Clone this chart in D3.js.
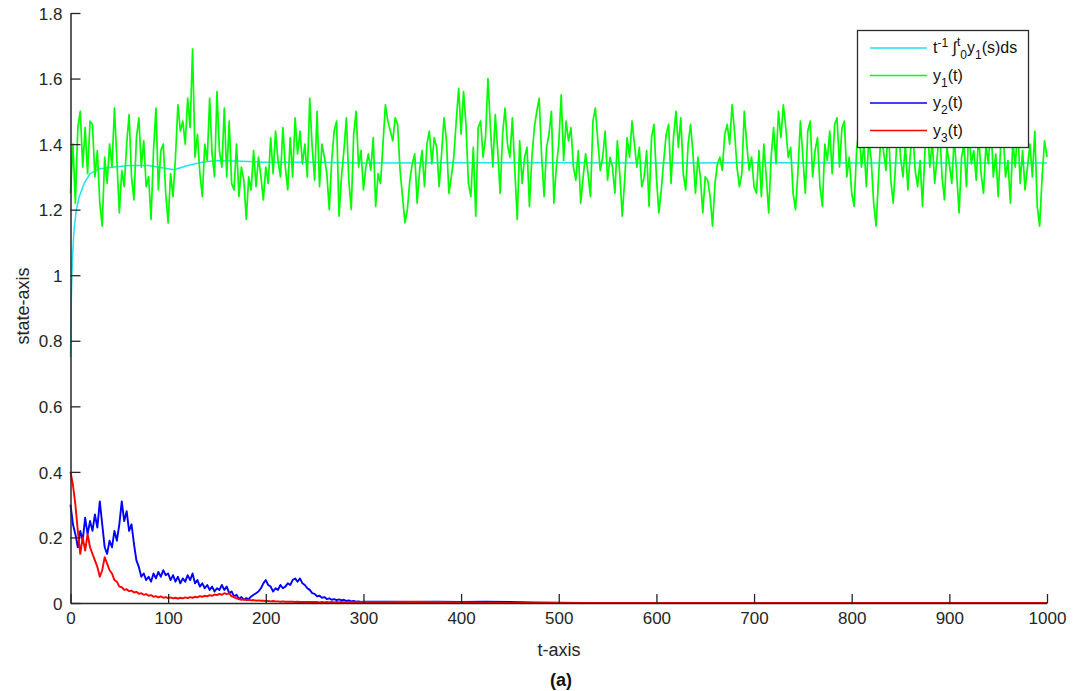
<!DOCTYPE html>
<html>
<head>
<meta charset="utf-8">
<script src="https://cdn.jsdelivr.net/npm/d3@7"></script>
<style>
  body { margin: 0; background: #fff; }
  svg { display: block; font-family: "Liberation Sans", Arial, sans-serif; }
</style>
</head>
<body>
<svg id="chart" width="1080" height="691"></svg>
<script>
// ── Data ──────────────────────────────────────────────────────────────────────
const xTickValues = [0, 100, 200, 300, 400, 500, 600, 700, 800, 900, 1000];
const yTickValues = [0, 0.2, 0.4, 0.6, 0.8, 1, 1.2, 1.4, 1.6, 1.8];
const yTickLabels = ["0", "0.2", "0.4", "0.6", "0.8", "1", "1.2", "1.4", "1.6", "1.8"];

// y1(t), sampled every 2.5 time units from 0 to 1000
const y1a = [
  1.25,1.40,1.22,1.45,1.50,1.33,1.45,1.31,1.47,1.46,
  1.30,1.38,1.22,1.15,1.36,1.28,1.40,1.33,1.51,1.35,
  1.19,1.32,1.27,1.40,1.49,1.30,1.23,1.42,1.48,1.33,
  1.41,1.27,1.30,1.17,1.38,1.51,1.26,1.38,1.40,1.25,
  1.16,1.31,1.24,1.36,1.52,1.44,1.47,1.40,1.54,1.45,
  1.69,1.36,1.43,1.31,1.24,1.40,1.35,1.54,1.37,1.30,
  1.56,1.38,1.33,1.51,1.30,1.47,1.28,1.26,1.40,1.24,
  1.33,1.29,1.17,1.30,1.26,1.38,1.27,1.36,1.30,1.23,
  1.33,1.28,1.42,1.31,1.44,1.35,1.30,1.45,1.33,1.26,
  1.42,1.30,1.48,1.37,1.44,1.34,1.40,1.30,1.54,1.39,
  1.29
];
const y1b = [
  1.50,1.27,1.40,1.36,1.31,1.20,1.35,1.44,1.47,1.18,
  1.30,1.38,1.48,1.29,1.20,1.43,1.50,1.33,1.38,1.26,
  1.33,1.37,1.32,1.42,1.21,1.31,1.28,1.40,1.52,1.47,
  1.44,1.41,1.48,1.46,1.32,1.24,1.16,1.20,1.29,1.34,
  1.37,1.22,1.32,1.38,1.27,1.40,1.44,1.34,1.42,1.39,
  1.27,1.37,1.48,1.41,1.25,1.30,1.36,1.47,1.57,1.43,
  1.56,1.46,1.28,1.24,1.39,1.18,1.45,1.47,1.36,1.42,
  1.60,1.45,1.33,1.49,1.38,1.25,1.43,1.51,1.40,1.36,
  1.48,1.32,1.17,1.41,1.28,1.36,1.39,1.21,1.36,1.45,
  1.50,1.54,1.36,1.24,1.39,1.43,1.50,1.22,1.33,1.40
];
const y1c = [
  1.55,1.35,1.47,1.41,1.45,1.33,1.29,1.38,1.22,1.30,
  1.37,1.31,1.24,1.47,1.51,1.41,1.32,1.36,1.44,1.29,
  1.36,1.33,1.25,1.41,1.31,1.18,1.29,1.42,1.36,1.47,
  1.40,1.33,1.39,1.27,1.30,1.38,1.21,1.42,1.46,1.30,
  1.19,1.26,1.35,1.43,1.46,1.28,1.42,1.50,1.39,1.48,
  1.31,1.26,1.40,1.46,1.37,1.25,1.36,1.30,1.19,1.30,
  1.29,1.24,1.15,1.28,1.34,1.36,1.32,1.43,1.46,1.40,
  1.52,1.44,1.33,1.27,1.31,1.50,1.40,1.32,1.36,1.27,
  1.25,1.38,1.24,1.40,1.30,1.19,1.36,1.45,1.34,1.50,
  1.42,1.52,1.45,1.36,1.39,1.25,1.20,1.32,1.47,1.36,
  1.25
];
const y1d = [
  1.44,1.47,1.30,1.38,1.42,1.27,1.21,1.40,1.35,1.44,
  1.31,1.46,1.48,1.33,1.45,1.47,1.30,1.36,1.25,1.21,
  1.38,1.45,1.33,1.40,1.27,1.42,1.35,1.22,1.15,1.30,
  1.43,1.38,1.32,1.46,1.29,1.22,1.34,1.48,1.36,1.30,
  1.40,1.26,1.37,1.44,1.32,1.27,1.35,1.21,1.38,1.46,
  1.33,1.41,1.28,1.36,1.45,1.30,1.23,1.39,1.34,1.28,
  1.42,1.31,1.19,1.36,1.40,1.27,1.45,1.34,1.38,1.29,
  1.43,1.31,1.25,1.40,1.34,1.47,1.30,1.37,1.24,1.39,
  1.44,1.30,1.35,1.22,1.41,1.33,1.46,1.28,1.38,1.26,
  1.33,1.40,1.30,1.44,1.21,1.15,1.30,1.41,1.36
];

// running time average of y1
const avgTimes  = [0, 0.5, 1, 2, 3, 4, 6, 9, 14, 20, 30, 45, 60, 80, 100, 106, 120, 135, 150, 175, 200, 250, 300, 400, 500, 600, 700, 800, 900, 1000];
const avgValues = [0.75, 0.85, 0.95, 1.05, 1.11, 1.15, 1.20, 1.24, 1.28, 1.31, 1.325, 1.33, 1.335, 1.335, 1.325, 1.322, 1.335, 1.345, 1.35, 1.348, 1.345, 1.345, 1.342, 1.343, 1.343, 1.342, 1.343, 1.342, 1.342, 1.342];

// y2(t): every 2.5 from 0 to 300, then every 25 from 325 to 1000
const y2Head = [
  0.30,0.24,0.21,0.17,0.22,0.19,0.26,0.21,0.25,0.22,
  0.27,0.23,0.31,0.24,0.17,0.15,0.19,0.17,0.22,0.19,
  0.24,0.31,0.25,0.28,0.22,0.24,0.18,0.13,0.11,0.08,
  0.09,0.07,0.08,0.065,0.09,0.075,0.095,0.08,0.10,0.085,
  0.09,0.07,0.085,0.065,0.08,0.06,0.075,0.065,0.085,0.07,
  0.09,0.06,0.07,0.05,0.06,0.045,0.055,0.04,0.05,0.035,
  0.045,0.04,0.055,0.04,0.05,0.03,0.035,0.02,0.025,0.012,
  0.018,0.01,0.015,0.012,0.02,0.025,0.03,0.035,0.045,0.06,
  0.07,0.055,0.05,0.035,0.045,0.04,0.055,0.045,0.05,0.06,
  0.055,0.07,0.075,0.065,0.075,0.06,0.055,0.045,0.04,0.03,
  0.028,0.02,0.022,0.016,0.018,0.012,0.014,0.01,0.012,0.009,
  0.011,0.008,0.01,0.006,0.008,0.005,0.006,0.004,0.005,0.003,
  0.004
];
const y2Tail = [0.004,0.003,0.004,0.003,0.004,0.003,0.002,0.001,0,0,0,0,0,0,0,0,0,0,0,0,0,0,0,0,0,0,0,0];

// y3(t): same sampling as y2
const y3Head = [
  0.40,0.36,0.30,0.22,0.15,0.20,0.16,0.21,0.17,0.15,
  0.13,0.11,0.08,0.10,0.14,0.12,0.10,0.09,0.07,0.065,
  0.05,0.048,0.04,0.042,0.036,0.038,0.032,0.034,0.028,0.03,
  0.025,0.027,0.022,0.024,0.019,0.021,0.017,0.02,0.016,0.018,
  0.015,0.017,0.014,0.016,0.013,0.016,0.014,0.017,0.015,0.018,
  0.016,0.019,0.017,0.021,0.019,0.022,0.02,0.024,0.022,0.026,
  0.024,0.028,0.025,0.03,0.027,0.03,0.02,0.018,0.014,0.012,
  0.01,0.011,0.009,0.01,0.008,0.009,0.007,0.008,0.007,0.007,
  0.006,0.006,0.005,0.006,0.005,0.005,0.004,0.005,0.004,0.004,
  0.004,0.004,0.003,0.004,0.003,0.003,0.003,0.003,0.003,0.003,
  0.003,0.003,0.002,0.003,0.002,0.003,0.002,0.003,0.002,0.003,
  0.002,0.003,0.002,0.003,0.002,0.003,0.002,0.003,0.002,0.003,
  0.003
];
const y3Tail = [0.003,0.004,0.003,0.002,0.001,0,0,0,0,0,0,0,0,0,0,0,0,0,0,0,0,0,0,0,0,0,0,0];

// ── Layout ────────────────────────────────────────────────────────────────────
const svg = d3.select("#chart");
const x = d3.scaleLinear().domain([0, 1000]).range([70.5, 1047]);
const y = d3.scaleLinear().domain([0, 1.8]).range([603, 13]);

const headTimes = d3.range(0, 300.01, 2.5);
const tailTimes = d3.range(325, 1000.01, 25);

const y1 = [...y1a, ...y1b, ...y1c, ...y1d];
const y1Series = y1.map((v, i) => [i * 1000 / (y1.length - 1), v]);
const avgSeries = avgTimes.map((t, i) => [t, avgValues[i]]);
const y2Series = headTimes.map((t, i) => [t, y2Head[i]])
  .concat(tailTimes.map((t, i) => [t, y2Tail[i]]));
const y3Series = headTimes.map((t, i) => [t, y3Head[i]])
  .concat(tailTimes.map((t, i) => [t, y3Tail[i]]));

const line = d3.line().x((d) => x(d[0])).y((d) => y(d[1]));

const series = [
  { data: avgSeries, color: "#1de3ec", width: 1.5 },
  { data: y1Series, color: "#00ff00", width: 1.7 },
  { data: y2Series, color: "#0000ff", width: 1.9 },
  { data: y3Series, color: "#ff0000", width: 1.9 },
];

svg.append("g")
  .selectAll("path")
  .data(series)
  .join("path")
  .attr("fill", "none")
  .attr("stroke", (d) => d.color)
  .attr("stroke-width", (d) => d.width)
  .attr("stroke-linejoin", "round")
  .attr("d", (d) => line(d.data));

// ── Axes (MATLAB style, ticks inward, box off) ────────────────────────────────
const axisColor = "#262626";

const xAxis = svg.append("g")
  .attr("transform", "translate(0,603)")
  .call(d3.axisBottom(x).tickValues(xTickValues).tickFormat(d3.format("d"))
    .tickSizeInner(-9).tickSizeOuter(0).tickPadding(9));
const yAxis = svg.append("g")
  .attr("transform", "translate(70.5,0)")
  .call(d3.axisLeft(y).tickValues(yTickValues).tickFormat((d, i) => yTickLabels[i])
    .tickSizeInner(-10).tickSizeOuter(0).tickPadding(8));

[xAxis, yAxis].forEach((g) => {
  g.select(".domain").attr("stroke", axisColor).attr("stroke-width", 1.5);
  g.selectAll(".tick line").attr("stroke", axisColor).attr("stroke-width", 1.3);
  g.selectAll(".tick text")
    .attr("fill", axisColor)
    .style("font-size", "17px")
    .style("font-family", "'Liberation Sans', Arial, sans-serif");
});
yAxis.selectAll(".tick text").attr("dy", "0.36em");

svg.append("text")
  .attr("x", 559).attr("y", 656)
  .attr("text-anchor", "middle")
  .attr("fill", axisColor)
  .style("font-size", "18px")
  .text("t-axis");

svg.append("text")
  .attr("transform", "translate(29,306) rotate(-90)")
  .attr("text-anchor", "middle")
  .attr("fill", axisColor)
  .style("font-size", "18px")
  .text("state-axis");

svg.append("text")
  .attr("x", 561).attr("y", 686)
  .attr("text-anchor", "middle")
  .attr("fill", "#111")
  .style("font-size", "18px")
  .style("font-weight", "bold")
  .text("(a)");

// ── Legend ────────────────────────────────────────────────────────────────────
const legendItems = [
  { color: "#1de3ec", parts: [["t", 0], ["-1", -1], [" ∫", 0], ["t", -1.2], ["0", 1], ["y", 0], ["1", 1], ["(s)ds", 0]] },
  { color: "#00ff00", parts: [["y", 0], ["1", 1], ["(t)", 0]] },
  { color: "#0000ff", parts: [["y", 0], ["2", 1], ["(t)", 0]] },
  { color: "#ff0000", parts: [["y", 0], ["3", 1], ["(t)", 0]] },
];

const legend = svg.append("g");
legend.append("rect")
  .attr("x", 857.5).attr("y", 30.5)
  .attr("width", 171).attr("height", 117)
  .attr("fill", "#fff")
  .attr("stroke", "#2b2b2b")
  .attr("stroke-width", 1.3);

legendItems.forEach((item, i) => {
  const ry = 48 + i * 27.5;
  legend.append("line")
    .attr("x1", 870).attr("x2", 927)
    .attr("y1", ry).attr("y2", ry)
    .attr("stroke", item.color)
    .attr("stroke-width", 1.5);
  const txt = legend.append("text")
    .attr("x", 933).attr("y", ry + 5)
    .attr("fill", "#111")
    .style("font-size", "16px");
  let shift = 0;
  item.parts.forEach(([s, level]) => {
    const ts = txt.append("tspan").text(s);
    const target = level * 6;
    ts.attr("dy", target - shift);
    shift = target;
    if (level !== 0) ts.style("font-size", "12px");
  });
});
</script>
</body>
</html>
